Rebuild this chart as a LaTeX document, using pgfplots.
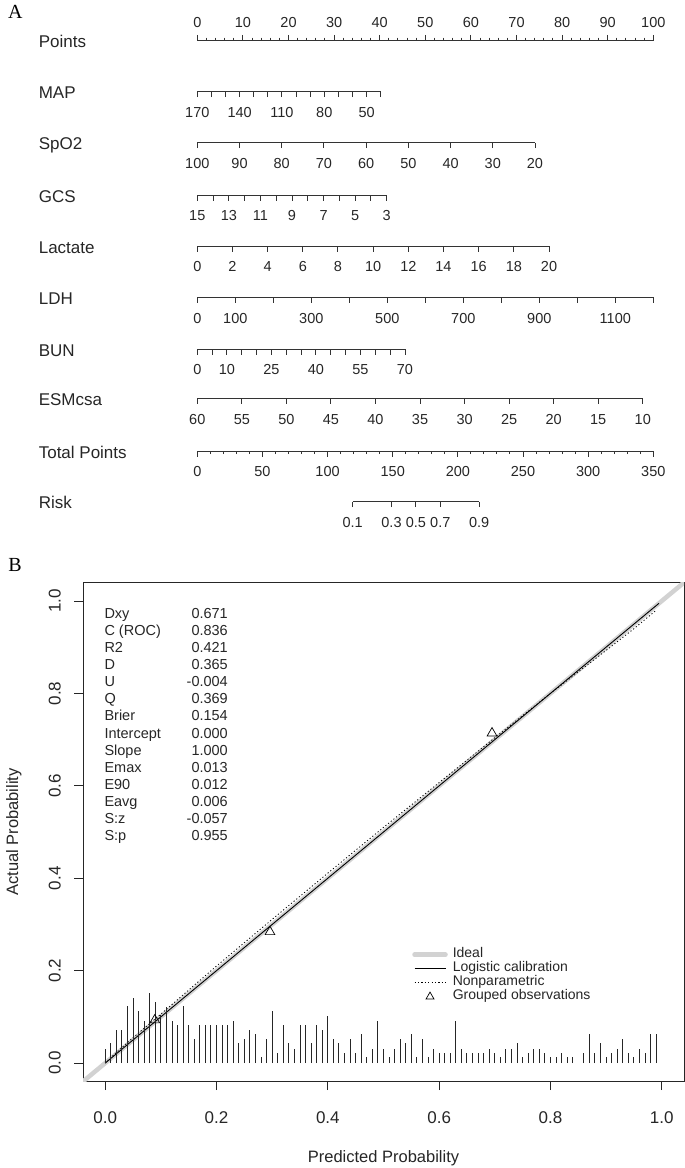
\documentclass[border=0pt]{standalone}
\usepackage{fontspec}
\setmainfont{Liberation Sans}
\newfontfamily\seriffont{Liberation Serif}
\usepackage{pgfplots}
\pgfplotsset{compat=1.18}
\pgfplotsset{
 nomo/.style={
  scale only axis, height=1bp, ymin=0, ymax=1,
  axis y line=none, axis x line*=bottom,
  axis line style={-, line width=1bp, black!80},
  tick style={line width=1bp, black!80},
  tick align=outside,
  major tick length=5.5bp, minor tick length=3bp,
  scaled x ticks=false,
  /pgf/number format/assume math mode=true,
  /pgf/number format/1000 sep={},
  tick label style={font=\fontsize{14.5bp}{14.5bp}\selectfont, black!85, anchor=base, inner sep=0pt},
  anchor=south west, clip=false,
 },
 below/.style={xticklabel style={yshift=-20.4bp}},
 trilegend/.style={legend image code/.code={\draw[##1, mark size=4.6bp] plot coordinates {(15.5bp,0bp)}; \path (0bp,0bp) (36bp,0bp);}},
}
\begin{document}
\begin{tikzpicture}
\useasboundingbox (0,0) rectangle (685bp,-1168bp);

\node[anchor=base west, inner sep=0pt, font=\seriffont\fontsize{20bp}{20bp}\selectfont] at (8bp,-18bp) {A};
\node[anchor=base west, inner sep=0pt, font=\seriffont\fontsize{20bp}{20bp}\selectfont] at (8.3bp,-571.7bp) {B};

\foreach \lab/\y in {Points/40.7, MAP/91.7, SpO2/142.7, GCS/195, Lactate/246, LDH/297.3, BUN/349, ESMcsa/398.3, Total Points/451, Risk/501.7} {
  \node[anchor=base west, inner sep=0pt, font=\fontsize{17bp}{17bp}\selectfont, black!85] at (38.6bp, {-(\y+7)*1bp}) {\lab};
}

% Points
\begin{axis}[nomo, axis x line*=top, anchor=north west, at={(197.3bp,-40.7bp)}, width=456bp,
  xmin=0, xmax=100, xtick={0,10,...,100}, minor xtick={2,4,...,98}, major tick length=5.7bp,
  xticklabel style={yshift=7.7bp}]
\end{axis}
% MAP
\begin{axis}[nomo, below, at={(197.3bp,-91.7bp)}, width=183.4bp, x dir=reverse,
  xmin=40, xmax=170, xtick={40,50,...,170}, xticklabels={,50,,,80,,,110,,,140,,,170}]
\end{axis}
% SpO2
\begin{axis}[nomo, below, at={(197.3bp,-142.7bp)}, width=337.7bp, x dir=reverse,
  xmin=20, xmax=100, xtick={20,30,...,100}]
\end{axis}
% GCS
\begin{axis}[nomo, below, at={(197.3bp,-195bp)}, width=189.4bp, x dir=reverse,
  xmin=3, xmax=15, xtick={3,...,15}, xticklabels={3,,5,,7,,9,,11,,13,,15}]
\end{axis}
% Lactate
\begin{axis}[nomo, below, at={(197.3bp,-246bp)}, width=351.7bp,
  xmin=0, xmax=20, xtick={0,2,...,20}]
\end{axis}
% LDH
\begin{axis}[nomo, below, at={(197.3bp,-297.3bp)}, width=456bp,
  xmin=0, xmax=1200, xtick={0,100,...,1200}, xticklabels={0,100,,300,,500,,700,,900,,1100,}]
\end{axis}
% BUN
\begin{axis}[nomo, below, at={(197.3bp,-349bp)}, width=207.7bp,
  xmin=0, xmax=70, xtick={0,5,...,70}, xticklabels={0,,10,,,25,,,40,,,55,,,70}]
\end{axis}
% ESMcsa
\begin{axis}[nomo, below, at={(197.3bp,-398.3bp)}, width=445.5bp, x dir=reverse,
  xmin=10, xmax=60, xtick={10,15,...,60}]
\end{axis}
% Total Points
\begin{axis}[nomo, below, at={(197.3bp,-451bp)}, width=456bp,
  xmin=0, xmax=350, xtick={0,50,...,350}, minor xtick={0,10,...,350}]
\end{axis}
% Risk (logit scale)
\begin{axis}[nomo, below, at={(352.6bp,-501.7bp)}, width=126.6bp,
  xmin=-2.1972, xmax=2.1972, xtick={-2.1972,-0.8473,0,0.8473,2.1972},
  xticklabels={0.1,0.3,0.5,0.7,0.9}]
\end{axis}

% Panel B statistics
\node[anchor=base west, inner sep=0pt, font=\fontsize{14.5bp}{17.1bp}\selectfont, black!85] at (104.3bp,-618.3bp)
 {\begin{tabular}[t]{@{}l@{}}Dxy\\C (ROC)\\R2\\D\\U\\Q\\Brier\\Intercept\\Slope\\Emax\\E90\\Eavg\\S:z\\S:p\end{tabular}};
\node[anchor=base east, inner sep=0pt, font=\fontsize{14.5bp}{17.1bp}\selectfont, black!85] at (228bp,-618.3bp)
 {\begin{tabular}[t]{@{}r@{}}0.671\\0.836\\0.421\\0.365\\-0.004\\0.369\\0.154\\0.000\\1.000\\0.013\\0.012\\0.006\\-0.057\\0.955\end{tabular}};

\node[anchor=base, inner sep=0pt, font=\fontsize{16.5bp}{16.5bp}\selectfont, black!85] at (383.5bp,-1162.6bp) {Predicted Probability};
\node[anchor=base, rotate=90, inner sep=0pt, font=\fontsize{16.5bp}{16.5bp}\selectfont, black!85] at (18bp,-832bp) {Actual Probability};

\begin{axis}[at={(83bp,-1081.5bp)}, anchor=south west, scale only axis, width=601bp, height=499bp,
  xmin=-0.04, xmax=1.04, ymin=-0.04, ymax=1.04,
  xtick={0,0.2,0.4,0.6,0.8,1}, ytick={0,0.2,0.4,0.6,0.8,1},
  xticklabels={0.0,0.2,0.4,0.6,0.8,1.0}, yticklabels={0.0,0.2,0.4,0.6,0.8,1.0},
  tick pos=left, tick align=outside, major tick length=8.5bp,
  axis line style={line width=0.9bp, black!85}, tick style={line width=0.9bp, black!85},
  tick label style={font=\fontsize{17bp}{17bp}\selectfont, black!85, inner sep=0pt},
  xticklabel style={anchor=base, yshift=-33bp},
  yticklabel style={xshift=-13.9bp, rotate=90, anchor=base},
  legend style={at={(axis cs:0.5517,0.2496)}, anchor=north west, draw=none, fill=none,
    inner sep=0pt, outer sep=0pt, row sep=0pt, column sep=0pt,
    font=\fontsize{14bp}{14bp}\selectfont,
    nodes={inner sep=0pt, text height=10bp, text depth=4bp, text=black!85}},
  legend cell align=left,
  legend image code/.code={\draw[#1] (0bp,0bp) -- (31bp,0bp); \path (36bp,0bp);},
]
\addplot[gray!35, line width=4.5bp, line cap=round] coordinates {(-0.04,-0.04) (1.04,1.04)};
\addlegendentry{Ideal}
\addplot[black, line width=0.9bp] coordinates {(0,0) (0.995,0.995)};
\addlegendentry{Logistic calibration}
\addplot[black, line width=0.8bp, dash pattern=on 1.2bp off 2.2bp] coordinates {
 (0.0,0.0) (0.01,0.012) (0.05,0.055) (0.1,0.106) (0.2,0.21) (0.3,0.311) (0.4,0.411)
 (0.5,0.51) (0.6,0.607) (0.7,0.704) (0.8,0.8) (0.9,0.893) (0.95,0.94) (0.99,0.98)};
\addlegendentry{Nonparametric}
\addplot[only marks, mark=triangle, mark size=5.6bp, mark options={black, line width=0.7bp}, trilegend]
  coordinates {(0.089,0.093) (0.296,0.284) (0.695,0.714)};
\addlegendentry{Grouped observations}
\addplot[ycomb, black!85, line width=1bp, mark=none, forget plot] coordinates {
(0.00,0.031) (0.01,0.043) (0.02,0.072) (0.03,0.072) (0.04,0.123) (0.05,0.141) (0.06,0.113) (0.07,0.091)
(0.08,0.152) (0.09,0.132) (0.10,0.103) (0.11,0.121) (0.12,0.091) (0.13,0.082) (0.14,0.123) (0.15,0.082)
(0.16,0.053) (0.17,0.082) (0.18,0.082) (0.19,0.082) (0.20,0.082) (0.21,0.082) (0.22,0.082) (0.23,0.091)
(0.24,0.043) (0.25,0.053) (0.26,0.072) (0.27,0.062) (0.28,0.012) (0.29,0.053) (0.30,0.113) (0.31,0.022)
(0.32,0.082) (0.33,0.043) (0.34,0.031) (0.35,0.082) (0.36,0.082) (0.37,0.043) (0.38,0.082) (0.39,0.072)
(0.40,0.101) (0.41,0.053) (0.42,0.043) (0.43,0.022) (0.44,0.053) (0.45,0.022) (0.46,0.062) (0.47,0.012)
(0.48,0.031) (0.49,0.091) (0.50,0.031) (0.51,0.012) (0.52,0.031) (0.53,0.053) (0.54,0.043) (0.55,0.062)
(0.56,0.012) (0.57,0.053) (0.58,0.012) (0.59,0.031) (0.60,0.022) (0.61,0.022) (0.62,0.022) (0.63,0.091)
(0.64,0.031) (0.65,0.022) (0.66,0.022) (0.67,0.022) (0.68,0.022) (0.69,0.031) (0.70,0.022) (0.71,0.012)
(0.72,0.031) (0.73,0.031) (0.74,0.043) (0.75,0.012) (0.76,0.022) (0.77,0.031) (0.78,0.031) (0.79,0.022)
(0.80,0.012) (0.81,0.012) (0.82,0.022) (0.83,0.012) (0.84,0.012) (0.86,0.022) (0.87,0.062) (0.88,0.022)
(0.89,0.043) (0.90,0.012) (0.91,0.022) (0.92,0.031) (0.93,0.052) (0.94,0.022) (0.95,0.012) (0.96,0.031)
(0.97,0.022) (0.98,0.062) (0.99,0.062)};
\end{axis}
\end{tikzpicture}
\end{document}
